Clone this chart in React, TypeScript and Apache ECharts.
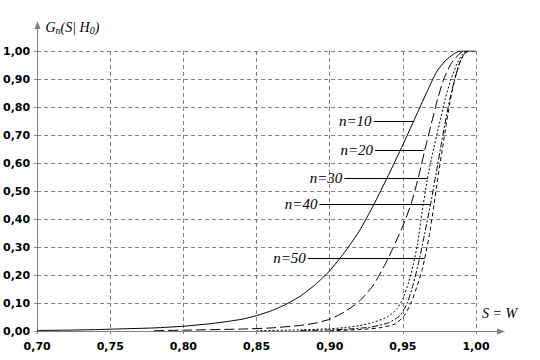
import React, { useEffect, useRef } from "react";
import * as echarts from "echarts";

// Sampled curves [S, G_n(S|H0)]
const n10: number[][] = [
  [0.70, 0.002], [0.72, 0.003], [0.74, 0.005], [0.76, 0.008], [0.78, 0.011],
  [0.80, 0.017], [0.82, 0.027], [0.84, 0.042], [0.85, 0.055], [0.86, 0.072],
  [0.87, 0.095], [0.88, 0.125], [0.89, 0.165], [0.90, 0.215], [0.91, 0.28],
  [0.92, 0.355], [0.93, 0.45], [0.94, 0.555], [0.95, 0.665], [0.96, 0.78],
  [0.967, 0.86], [0.973, 0.925], [0.979, 0.965], [0.985, 0.99], [0.989, 1.0], [1.0, 1.0],
];
const n20: number[][] = [
  [0.78, 0.001], [0.80, 0.003], [0.84, 0.007], [0.86, 0.011], [0.88, 0.02],
  [0.89, 0.028], [0.90, 0.042], [0.91, 0.068], [0.92, 0.105], [0.93, 0.165],
  [0.94, 0.26], [0.95, 0.375], [0.956, 0.46], [0.961, 0.557], [0.965, 0.646],
  [0.969, 0.73], [0.973, 0.814], [0.978, 0.90], [0.983, 0.955], [0.988, 0.987], [0.991, 1.0],
];
const n30: number[][] = [
  [0.85, 0.001], [0.88, 0.004], [0.90, 0.008], [0.910, 0.012], [0.920, 0.019],
  [0.930, 0.031], [0.940, 0.052], [0.946, 0.08], [0.950, 0.115], [0.954, 0.175],
  [0.957, 0.235], [0.960, 0.31], [0.963, 0.42], [0.967, 0.55], [0.971, 0.65],
  [0.975, 0.74], [0.979, 0.83], [0.983, 0.90], [0.987, 0.955], [0.991, 0.99], [0.993, 1.0],
];
const n40: number[][] = [
  [0.88, 0.001], [0.91, 0.006], [0.928, 0.014], [0.940, 0.029], [0.948, 0.055],
  [0.953, 0.10], [0.957, 0.165], [0.961, 0.25], [0.965, 0.35], [0.969, 0.454],
  [0.973, 0.57], [0.977, 0.69], [0.981, 0.80], [0.985, 0.89], [0.989, 0.96],
  [0.992, 0.99], [0.994, 1.0],
];
const n50: number[][] = [
  [0.90, 0.001], [0.92, 0.005], [0.935, 0.012], [0.945, 0.026], [0.951, 0.055],
  [0.956, 0.105], [0.960, 0.165], [0.963, 0.215], [0.965, 0.26], [0.968, 0.34],
  [0.971, 0.44], [0.974, 0.55], [0.977, 0.65], [0.980, 0.75], [0.983, 0.84],
  [0.986, 0.91], [0.989, 0.96], [0.992, 0.99], [0.995, 1.0],
];

const seriesNames = ["n=10", "n=20", "n=30", "n=40", "n=50"];
const seriesData = [n10, n20, n30, n40, n50];
const dashTypes: any[] = ["solid", [10, 4], [2, 2], [6, 2, 2, 2], [4, 3]];
// leader lines: [startS, endS, level]
const leaders: number[][] = [
  [0.930, 0.957, 0.75],
  [0.931, 0.964, 0.646],
  [0.910, 0.967, 0.546],
  [0.893, 0.969, 0.454],
  [0.885, 0.965, 0.26],
];

const fmt = (v: number) => v.toFixed(2).replace(".", ",");

export default function App() {
  const ref = useRef<HTMLDivElement>(null);
  useEffect(() => {
    if (!ref.current) return;
    const chart = echarts.init(ref.current, undefined, { renderer: "svg" });
    const axisGray = "#808080";
    const labelFont = {
      color: "#000",
      fontFamily: "DejaVu Sans",
      fontWeight: "bold" as const,
      fontSize: 11,
    };
    chart.setOption({
      animation: false,
      backgroundColor: "#fff",
      grid: { left: 34, right: 64, top: 51, bottom: 29, containLabel: false },
      xAxis: {
        type: "value",
        min: 0.7,
        max: 1.0,
        interval: 0.05,
        axisLine: { lineStyle: { color: axisGray, width: 1 } },
        axisTick: { show: true, length: 3, lineStyle: { color: axisGray } },
        axisLabel: { ...labelFont, margin: 10, formatter: fmt },
        splitLine: { show: true, lineStyle: { color: axisGray, type: [4, 3] } },
      },
      yAxis: {
        type: "value",
        min: 0,
        max: 1,
        interval: 0.1,
        axisLine: { show: true, lineStyle: { color: axisGray, width: 1 } },
        axisTick: { show: true, length: 3, lineStyle: { color: axisGray } },
        axisLabel: { ...labelFont, margin: 7, formatter: fmt },
        splitLine: { show: true, lineStyle: { color: axisGray, type: [4, 3] } },
      },
      series: seriesData.map((d, i) => ({
        name: seriesNames[i],
        type: "line",
        data: d,
        showSymbol: false,
        smooth: 0.2,
        z: 3,
        lineStyle: { color: "#000", width: 1, type: dashTypes[i] },
        markLine: {
          silent: true,
          symbol: ["none", "none"],
          lineStyle: { color: "#000", width: 1, type: "solid" },
          label: {
            show: true,
            position: "start",
            distance: 2,
            formatter: seriesNames[i],
            color: "#000",
            fontFamily: "Liberation Serif",
            fontStyle: "italic",
            fontSize: 15,
          },
          data: [
            [
              { coord: [leaders[i][0], leaders[i][2]] },
              { coord: [leaders[i][1], leaders[i][2]] },
            ],
          ],
        },
      })),
    });

    const o = chart.convertToPixel({ gridIndex: 0 }, [0.7, 0]) as number[];
    const e = chart.convertToPixel({ gridIndex: 0 }, [1.0, 1.0]) as number[];
    const ox = Math.round(o[0]) + 0.5;
    const oy = Math.round(o[1]) + 0.5;
    const xEnd = e[0] + 29;
    const yEnd = e[1] - 30;
    chart.setOption({
      graphic: [
        {
          type: "line",
          shape: { x1: e[0], y1: oy, x2: xEnd - 6, y2: oy },
          style: { stroke: axisGray, lineWidth: 1 },
        },
        {
          type: "polygon",
          shape: { points: [[xEnd - 8, oy - 3], [xEnd, oy], [xEnd - 8, oy + 3]] },
          style: { fill: axisGray },
        },
        {
          type: "line",
          shape: { x1: ox, y1: e[1], x2: ox, y2: yEnd + 6 },
          style: { stroke: axisGray, lineWidth: 1 },
        },
        {
          type: "polygon",
          shape: { points: [[ox - 3, yEnd + 8], [ox, yEnd], [ox + 3, yEnd + 8]] },
          style: { fill: axisGray },
        },
        {
          type: "text",
          x: ox + 8,
          y: yEnd + 6,
          style: {
            text: "{a|G}{s|n}{a|(S| H}{s|0}{a|)}",
            verticalAlign: "middle",
            rich: {
              a: { fontFamily: "Liberation Serif", fontStyle: "italic", fontSize: 14, fill: "#000" },
              s: { fontFamily: "Liberation Serif", fontStyle: "italic", fontSize: 10, fill: "#000", padding: [6, 0, 0, 0] },
            },
          },
        },
        {
          type: "text",
          x: e[0] + 6,
          y: oy - 18,
          style: {
            text: "S = W",
            verticalAlign: "middle",
            fontFamily: "Liberation Serif",
            fontStyle: "italic",
            fontSize: 14,
            fill: "#000",
          },
        },
      ],
    });
    return () => chart.dispose();
  }, []);
  return (
    <div
      ref={ref}
      style={{ position: "absolute", left: 0, top: 0, width: 540, height: 360 }}
    />
  );
}
